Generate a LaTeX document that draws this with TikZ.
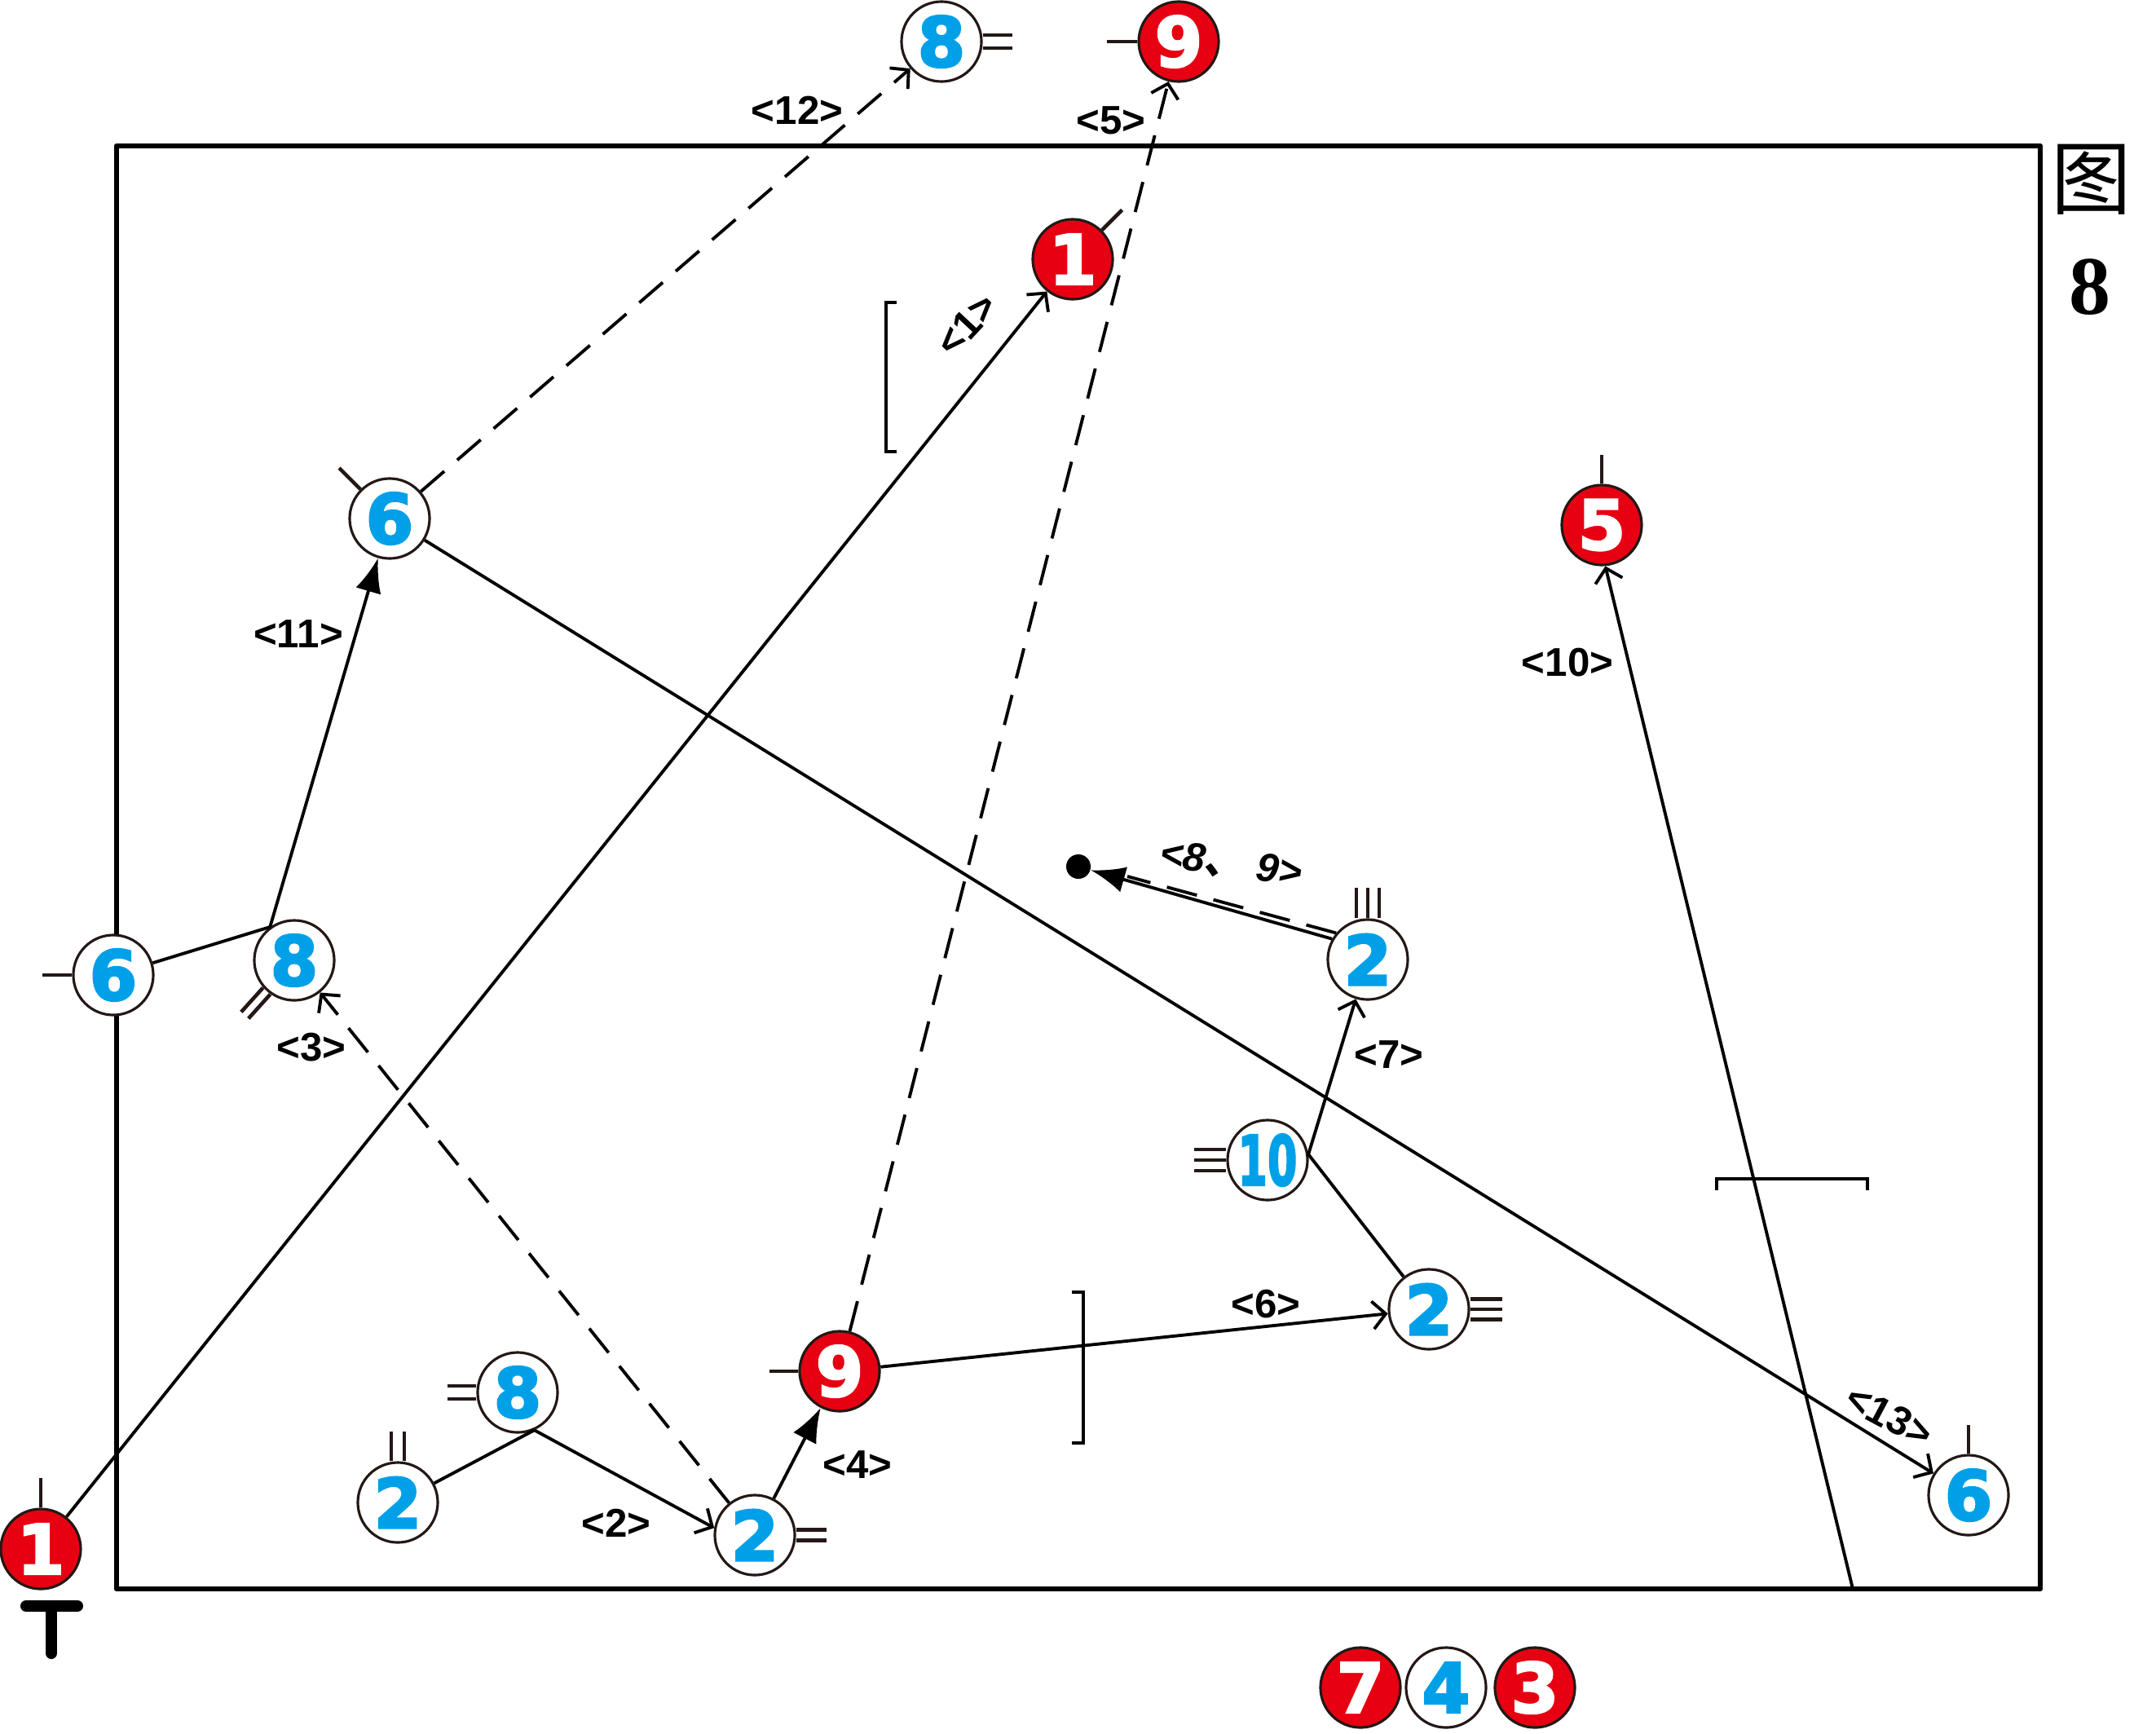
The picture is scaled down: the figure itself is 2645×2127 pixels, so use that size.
\documentclass[tikz,border=0pt]{standalone}
\usepackage{fontspec}
\usepackage{tikz}
\usetikzlibrary{arrows.meta}

\setmainfont{Liberation Serif}
\newfontfamily\numfont{DejaVu Sans}[BoldFeatures={FakeBold=3}]
\newfontfamily\lblfont{Liberation Sans}
\newfontfamily\cjkfont{Noto Sans CJK SC}

\definecolor{pred}{HTML}{E60012}
\definecolor{pblue}{HTML}{00A0E9}
\definecolor{pline}{HTML}{231815}

\tikzset{
  redp/.style={circle, draw=pline, line width=0.9pt, fill=pred, text=white,
    minimum size=0.98cm, inner sep=0pt, font=\numfont\bfseries\fontsize{24pt}{24pt}\selectfont},
  bluep/.style={redp, fill=white, text=pblue},
  tick/.style={pline, line width=1.3pt},
  plain/.style={line width=1.1pt},
  pass/.style={plain, -{Straight Barb[length=1.6mm,width=3.4mm]}},
  run/.style={pass, dash pattern=on 0.38cm off 0.21cm},
  shot/.style={plain, -{Latex[length=4.2mm,width=3.2mm]}},
  lbl/.style={font=\lblfont\bfseries\fontsize{14pt}{14pt}\selectfont, inner sep=1pt},
}

\begin{document}
\begin{tikzpicture}[x=0.01cm, y=-0.01cm]
    \useasboundingbox (0,0) rectangle (2645,2127);

    % Field
    \draw[line width=1.9pt, line join=round] (143,179) rectangle (2503,1949);

    % Brackets
    \draw[line width=1.4pt] (1100,371) -- (1087,371) -- (1087,554) -- (1100,554);
    \draw[line width=1.4pt] (1315,1585) -- (1329,1585) -- (1329,1770) -- (1315,1770);
    \draw[line width=1.4pt] (2106,1460) -- (2106,1446) -- (2291,1446) -- (2291,1460);

    % Red players
    \node[redp] (r1a) at (1316,318) {1};
    \node[redp] (r9t) at (1446,51) {9};
    \node[redp] (r5) at (1965,644) {5};
    \node[redp] (r1b) at (50,1900) {1};
    \node[redp] (r9m) at (1030,1682) {9};
    \node[redp] (r7) at (1669,2070) {7};
    \node[redp] (r3) at (1883,2070) {3};

    % Blue players
    \node[bluep] (w8t) at (1155,51) {8};
    \node[bluep] (w6a) at (478,636) {6};
    \node[bluep] (w6b) at (139,1196) {6};
    \node[bluep] (w8a) at (361,1178) {8};
    \node[bluep] (w8b) at (635,1708) {8};
    \node[bluep] (w2a) at (488,1843) {2};
    \node[bluep] (w2b) at (926,1883) {2};
    \node[bluep] (w2c) at (1678,1177) {2};
    \node[bluep] (w10) at (1555,1423) {\scalebox{0.62}[1]{10}};
    \node[bluep] (w2d) at (1753,1606) {2};
    \node[bluep] (w6c) at (2415,1834) {6};
    \node[bluep] (w4) at (1774,2070) {4};

    % Ball
    \node[circle, fill=black, minimum size=0.3cm, inner sep=0pt] (ballpt) at (1323,1063) {};

    % Ticks
    \draw[tick] (r1a.45) -- ++(45:0.35cm);
    \draw[tick] (r9t.west) -- ++(-37,0);
    \draw[tick] (r5.north) -- ++(0,-35);
    \draw[tick] (r1b.north) -- ++(0,-36);
    \draw[tick] (r9m.west) -- ++(-35,0);
    \draw[tick] ([yshift=0.08cm]w8t.east) -- ++(36,0);
    \draw[tick] ([yshift=-0.08cm]w8t.east) -- ++(36,0);
    \draw[tick] (w6a.135) -- ++(135:0.37cm);
    \draw[tick] (w6b.west) -- ++(-36,0);
    \draw[tick] ([shift={(138:0.06cm)}]w8a.228) -- ++(228:0.4cm);
    \draw[tick] ([shift={(-42:0.06cm)}]w8a.228) -- ++(228:0.4cm);
    \draw[tick] ([yshift=0.08cm]w8b.west) -- ++(-35,0);
    \draw[tick] ([yshift=-0.08cm]w8b.west) -- ++(-35,0);
    \draw[tick] ([xshift=-0.08cm]w2a.north) -- ++(0,-36);
    \draw[tick] ([xshift=0.08cm]w2a.north) -- ++(0,-36);
    \draw[tick] ([yshift=0.065cm]w2b.east) -- ++(37,0);
    \draw[tick] ([yshift=-0.065cm]w2b.east) -- ++(37,0);
    \foreach \s in {-0.14,0,0.14}
      \draw[tick] ([xshift=\s cm]w2c.north) -- ++(0,-37);
    \foreach \s in {-0.13,0,0.13}
      \draw[tick] ([yshift=\s cm]w10.west) -- ++(-39,0);
    \foreach \s in {-0.125,0,0.125}
      \draw[tick] ([yshift=\s cm]w2d.east) -- ++(39,0);
    \draw[tick] (w6c.north) -- ++(0,-35);

    % Kick-off mark
    \draw[line width=4pt, line cap=round] (32,1970) -- (95,1970) (63,1970) -- (63,2028);

    % Passes and runs
    \draw[pass] (r1b) -- (r1a);
    \draw[run] (r9m) -- (r9t);
    \draw[run] (w6a) -- (w8t);
    \draw[plain] (w6b) -- (w8a.126);
    \draw[shot] (w8a.126) -- (w6a);
    \draw[run] (w2b) -- (w8a);
    \draw[plain] (w2a) -- (w8b.-66);
    \draw[pass] (w8b.-66) -- (w2b.170);
    \draw[shot] (w2b) -- (r9m);
    \draw[pass] (r9m) -- (w2d);
    \draw[pass] (w10.8) -- (w2c);
    \draw[plain] (w10.8) -- (w2d);
    \draw[shot] (w2c.150) -- (ballpt);
    \draw[plain, dash pattern=on 0.38cm off 0.21cm] (w2c.140) -- ([shift={(0.6cm,-0.12cm)}]ballpt.center);
    \draw[pass] (w6a) -- (w6c);
    \coordinate (goalline) at (2273,1949);
    \draw[pass] (goalline) -- (r5.-85);

    % Step labels
    \node[lbl, rotate=47] (l1) at (1186,398) {<1>};
    \node[lbl] (l2) at (756,1868) {<2>};
    \node[lbl] (l3) at (382,1285) {<3>};
    \node[lbl] (l4) at (1052,1797) {<4>};
    \node[lbl] (l5) at (1363,148) {<5>};
    \node[lbl] (l6) at (1553,1600) {<6>};
    \node[lbl] (l7) at (1704,1294) {<7>};
    \node[lbl, font=\lblfont\bfseries\itshape\fontsize{14pt}{14pt}\selectfont, rotate=-8] (l89) at (1510,1060) {<8{\cjkfont 、} 9>};
    \node[lbl] (l10) at (1923,813) {<10>};
    \node[lbl] (l11) at (366,778) {<11>};
    \node[lbl] (l12) at (978,135) {<12>};
    \node[lbl, rotate=-28] (l13) at (2318,1737) {<13>};

    % Figure number
    \node[font=\cjkfont\fontsize{28pt}{28pt}\selectfont] (tu) at (2566,220) {图};
    \node[font=\bfseries\fontsize{29pt}{29pt}\selectfont] (tunum) at (2564,352) {8};

\end{tikzpicture}
\end{document}
